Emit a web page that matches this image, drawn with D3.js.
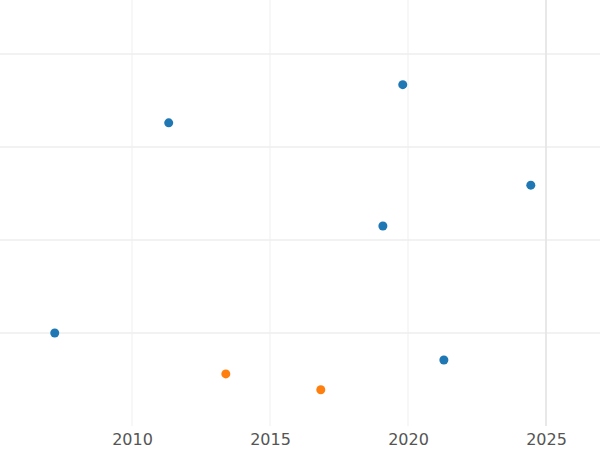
<!DOCTYPE html>
<html><head><meta charset="utf-8">
<script src="https://cdn.jsdelivr.net/npm/d3@7"></script>
<style>body{margin:0;background:#fff}</style></head>
<body><svg id="c" width="600" height="450"></svg>
<script>
const xYears=[2007.2,2011.33,2013.4,2016.84,2019.09,2019.81,2021.3,2024.45];
const yValues=[1.0,3.26,0.56,0.39,2.15,3.67,0.71,2.59];
const groups=["a","a","b","b","a","a","a","a"];
const xTicks=[2010,2015,2020,2025];
const yTicks=[1,2,3,4];
const svg=d3.select("#c");
const x=d3.scaleLinear().domain([2005.217,2026.957]).range([0,600]);
const y=d3.scaleLinear().domain([0,4.5806]).range([426,0]);
const color=d3.scaleOrdinal().domain(["a","b"]).range(["#1f77b4","#ff7f0e"]);
svg.append("g").selectAll("line").data(yTicks).join("line")
 .attr("x1",0).attr("x2",600).attr("y1",d=>y(d)).attr("y2",d=>y(d))
 .attr("stroke","#e5e5e5").attr("stroke-width",1.2);
svg.append("g").selectAll("line").data(xTicks).join("line")
 .attr("x1",d=>x(d)).attr("x2",d=>x(d)).attr("y1",0).attr("y2",426)
 .attr("stroke",d=>d===2025?"#e6e6e6":"#efefef").attr("stroke-width",d=>d===2025?1.8:1);
const ax=svg.append("g").attr("transform","translate(0,426)")
 .call(d3.axisBottom(x).tickValues(xTicks).tickFormat(d3.format("d")).tickSize(0).tickPadding(8));
ax.select(".domain").remove();
ax.selectAll("text").attr("fill","#555").attr("font-size",16).attr("font-family","DejaVu Sans");
svg.append("g").selectAll("circle").data(xYears).join("circle")
 .attr("cx",d=>x(d)).attr("cy",(d,i)=>y(yValues[i])).attr("r",4.5)
 .attr("fill",(d,i)=>color(groups[i]));
</script></body></html>
